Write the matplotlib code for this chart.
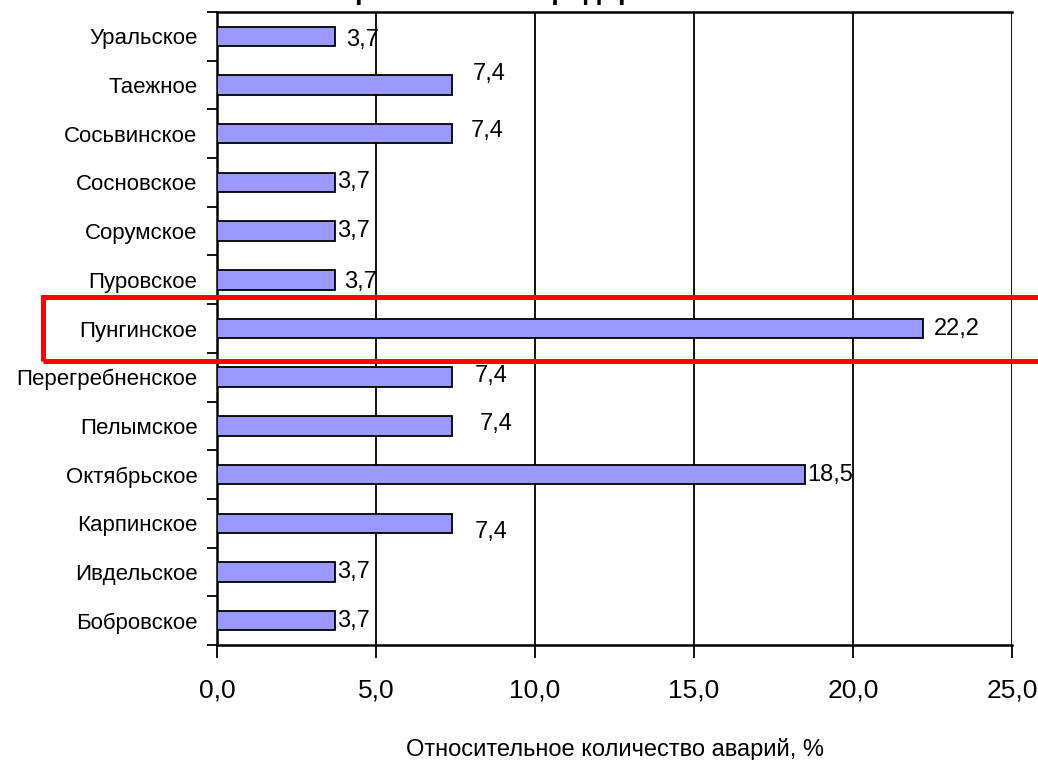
import matplotlib
matplotlib.use("Agg")
import matplotlib.pyplot as plt
from matplotlib.patches import Rectangle
from matplotlib.ticker import FuncFormatter, FixedLocator
import numpy as np

# data (bottom -> top)
names = ["Бобровское", "Ивдельское", "Карпинское", "Октябрьское", "Пелымское",
         "Перегребненское", "Пунгинское", "Пуровское", "Сорумское", "Сосновское",
         "Сосьвинское", "Таежное", "Уральское"]
values = [3.7, 3.7, 7.4, 18.5, 7.4, 7.4, 22.2, 3.7, 3.7, 3.7, 7.4, 7.4, 3.7]
x_ticks = [0, 5, 10, 15, 20, 25]
x_title = "Относительное количество аварий, %"

# label offsets in pixels (dx, dy), like the Excel original
lbl_off = [(2, 0), (2, 0), (22, -9), (2, 0), (27, 2), (22, 1), (11, 0),
           (9, -2), (2, 0), (2, 0), (18, 3), (20, 11), (11, -4)]

plt.rcParams['font.family'] = ['Liberation Sans', 'DejaVu Sans']

fig = plt.figure(figsize=(10.38, 7.6), dpi=100)
ax = fig.add_axes([0.2091, 0.1513, 0.975 - 0.2091, 0.9842 - 0.1513])

y = np.arange(len(names))
ax.barh(y, values, height=0.4, color="#9999ff", edgecolor="black", linewidth=1.3, zorder=3)

for yi, v, (dx, dy) in zip(y, values, lbl_off):
    ax.annotate(f"{v:.1f}".replace(".", ","), (v, yi), xytext=(dx, dy),
                textcoords="offset pixels", va="center", ha="left", fontsize=17)

ax.set_xlim(0, 25)
ax.set_ylim(-0.5, len(names) - 0.5)
ax.set_xticks(x_ticks)
ax.xaxis.set_major_formatter(FuncFormatter(lambda v, p: f"{v:.1f}".replace(".", ",")))
ax.grid(axis="x", color="black", linewidth=1.3, zorder=0)

ax.set_yticks(y)
ax.set_yticklabels(names, fontsize=16)
ax.yaxis.set_minor_locator(FixedLocator(np.arange(-0.5, len(names), 1)))
ax.tick_params(axis="y", which="major", length=0, pad=14)
ax.tick_params(axis="y", which="minor", length=7, width=1.3)
ax.tick_params(axis="x", length=9, width=1.3, pad=15, labelsize=19)

ax.spines["right"].set_visible(False)
for s in ["left", "top", "bottom"]:
    ax.spines[s].set_linewidth(1.8)

ax.set_xlabel(x_title, fontsize=17, labelpad=26)

# title of the slide, cut off at the top edge as in the original
fig.text(0.5, 1 + 1 / 760, "Аварийность по предприятиям", ha="center", va="baseline",
         fontsize=20, fontweight="bold")

fig.patches.append(Rectangle((43 / 1038, 1 - 361 / 760), 1.1, 64 / 760,
                             transform=fig.transFigure, fill=False,
                             edgecolor="red", linewidth=3.6, clip_on=False))

fig.savefig("out.png", dpi=100)
